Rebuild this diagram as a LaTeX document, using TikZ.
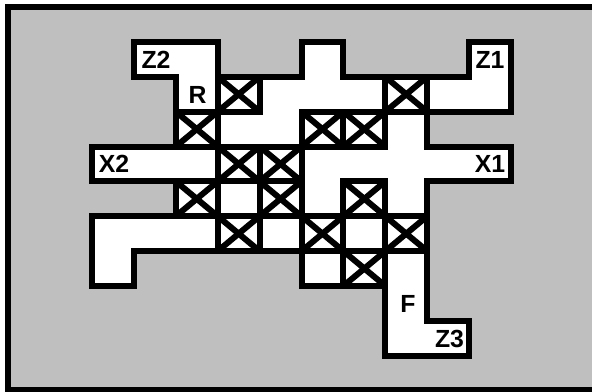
\documentclass[tikz,border=0pt]{standalone}
\usepackage{fontspec}
\setmainfont{Liberation Sans}
\definecolor{panel}{gray}{0.75}
\tikzset{
  px/.style={x=0.75pt,y=-0.75pt},
  wall/.style={draw=black,line width=4.5pt,miter limit=10},
  lab/.style={font=\fontsize{18.6pt}{20pt}\selectfont\bfseries,inner sep=0pt,text=black},
}
\newcommand{\gx}[1]{\fpeval{92+41.9*(#1)}}
\newcommand{\gy}[1]{\fpeval{42+34.85*(#1)}}
\begin{document}
\begin{tikzpicture}[px]
\useasboundingbox (0,0) rectangle (592,392);
\fill[white] (0,0) rectangle (592,392);
% frame: its right side lies beyond the picture's edge
\fill[black] (5,4) rectangle (592,392);
\fill[panel] (11,10) rectangle (592,387);
% white channel region, outlined
\draw[wall,fill=white]
 ({\gx{1}},{\gy{0}}) -- ({\gx{3}},{\gy{0}}) -- ({\gx{3}},{\gy{1}}) -- ({\gx{5}},{\gy{1}})
 -- ({\gx{5}},{\gy{0}}) -- ({\gx{6}},{\gy{0}}) -- ({\gx{6}},{\gy{1}}) -- ({\gx{9}},{\gy{1}})
 -- ({\gx{9}},{\gy{0}}) -- ({\gx{10}},{\gy{0}}) -- ({\gx{10}},{\gy{2}}) -- ({\gx{8}},{\gy{2}})
 -- ({\gx{8}},{\gy{3}}) -- ({\gx{10}},{\gy{3}}) -- ({\gx{10}},{\gy{4}}) -- ({\gx{8}},{\gy{4}})
 -- ({\gx{8}},{\gy{8}}) -- ({\gx{9}},{\gy{8}}) -- ({\gx{9}},{\gy{9}}) -- ({\gx{7}},{\gy{9}})
 -- ({\gx{7}},{\gy{7}}) -- ({\gx{5}},{\gy{7}}) -- ({\gx{5}},{\gy{6}}) -- ({\gx{1}},{\gy{6}})
 -- ({\gx{1}},{\gy{7}}) -- ({\gx{0}},{\gy{7}}) -- ({\gx{0}},{\gy{5}}) -- ({\gx{2}},{\gy{5}})
 -- ({\gx{2}},{\gy{4}}) -- ({\gx{0}},{\gy{4}}) -- ({\gx{0}},{\gy{3}}) -- ({\gx{2}},{\gy{3}})
 -- ({\gx{2}},{\gy{1}}) -- ({\gx{1}},{\gy{1}}) -- cycle;
% crossed cells: column / row
\foreach \c/\r in {3/1,7/1,2/2,5/2,6/2,3/3,4/3,2/4,4/4,6/4,3/5,5/5,7/5,6/6}{
  \draw[wall] ({\gx{\c}},{\gy{\r}}) rectangle ({\gx{\c+1}},{\gy{\r+1}});
  \draw[wall] ({\gx{\c}},{\gy{\r}}) -- ({\gx{\c+1}},{\gy{\r+1}});
  \draw[wall] ({\gx{\c}},{\gy{\r+1}}) -- ({\gx{\c+1}},{\gy{\r}});
}
\node[lab] (z2) at (156,59.5) {Z2};
\node[lab] (r)  at (197.5,94.5) {R};
\node[lab] (z1) at (490,59.5) {Z1};
\node[lab] (x2) at (114,164) {X2};
\node[lab] (x1) at (490,164) {X1};
\node[lab] (f)  at (408,304) {F};
\node[lab] (z3) at (449.5,338.5) {Z3};
\end{tikzpicture}
\end{document}
